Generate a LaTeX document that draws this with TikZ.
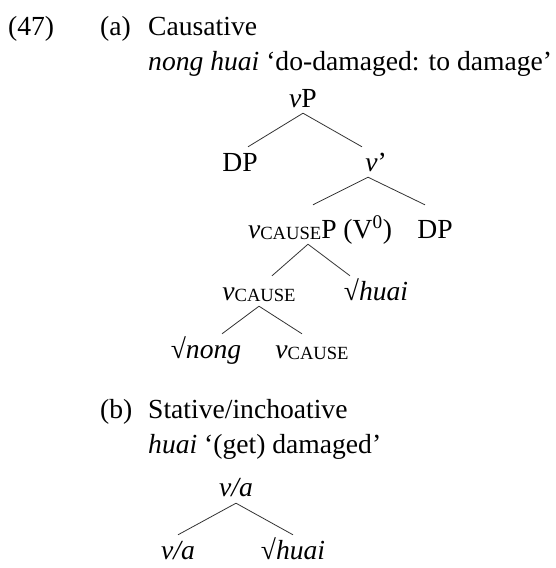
\documentclass[tikz,border=0pt]{standalone}
\usepackage{fontspec}
\setmainfont{Liberation Serif}
\usetikzlibrary{positioning}
\newcommand{\vcause}{\textit{v}\raisebox{-1.2pt}{\fontsize{18.6}{18.6}\selectfont CAUSE}}

\begin{document}
\begin{tikzpicture}[
  x=1pt, y=-1pt,
  font=\fontsize{27.6}{33}\selectfont,
  lab/.style={anchor=base west, inner sep=0pt},
  cat/.style={anchor=base, inner xsep=0pt, inner ysep=6pt, text height=18pt, text depth=0pt},
  tall/.style={text height=27pt},
  branch/.style={line width=0.8pt, draw=black!80}]
\useasboundingbox (0,0) rectangle (556,568);
% --- (a) causative ---
\node[lab] (exnum) at (8,35) {(47)};
\node[lab] (amark) at (100,35) {(a)};
\node[lab] (atitle) at (148,35) {Causative};
\node[lab] (agloss) at (148,70) {\textit{nong huai} ‘do-damaged: to damage’};
\node[cat] (vP) at (303,107) {\textit{v}P};
\node[cat] (dpA) at (240,171) {DP};
\node[cat] (vbar) at (376,171) {\textit{v}’};
\node[cat, tall] (vcP) at (320,238) {\vcause P (V\textsuperscript{0})};
\node[cat, tall] (dpB) at (435,238) {DP};
\node[cat] (vcA) at (259,300) {\vcause};
\node[cat] (huaiA) at (376,300) {√\textit{huai}};
\node[cat] (nong) at (206,358) {√\textit{nong}};
\node[cat] (vcB) at (312,358) {\vcause};
\draw[branch] (vP.south) -- ([xshift=8pt]dpA.north);
\draw[branch] (vP.south) -- ([xshift=-14pt]vbar.north);
\draw[branch] ([xshift=-8pt]vbar.south) -- ([xshift=-7pt]vcP.north);
\draw[branch] ([xshift=-8pt]vbar.south) -- ([xshift=-10pt]dpB.north);
\draw[branch] ([xshift=-12pt]vcP.south) -- ([xshift=13pt]vcA.north);
\draw[branch] ([xshift=-12pt]vcP.south) -- ([xshift=-26pt]huaiA.north);
\draw[branch] (vcA.south) -- ([xshift=16pt]nong.north);
\draw[branch] (vcA.south) -- ([xshift=-10pt]vcB.north);
% --- (b) stative/inchoative ---
\node[lab] (bmark) at (100,418) {(b)};
\node[lab] (btitle) at (148,418) {Stative/inchoative};
\node[lab] (bgloss) at (148,453) {\textit{huai} ‘(get) damaged’};
\node[cat] (vaTop) at (236,496) {\textit{v/a}};
\node[cat] (vaBot) at (178,559) {\textit{v/a}};
\node[cat] (huaiB) at (293,559) {√\textit{huai}};
\draw[branch] ([yshift=-1pt]vaTop.south) -- (vaBot.north);
\draw[branch] ([yshift=-1pt]vaTop.south) -- (huaiB.north);
\end{tikzpicture}
\end{document}
